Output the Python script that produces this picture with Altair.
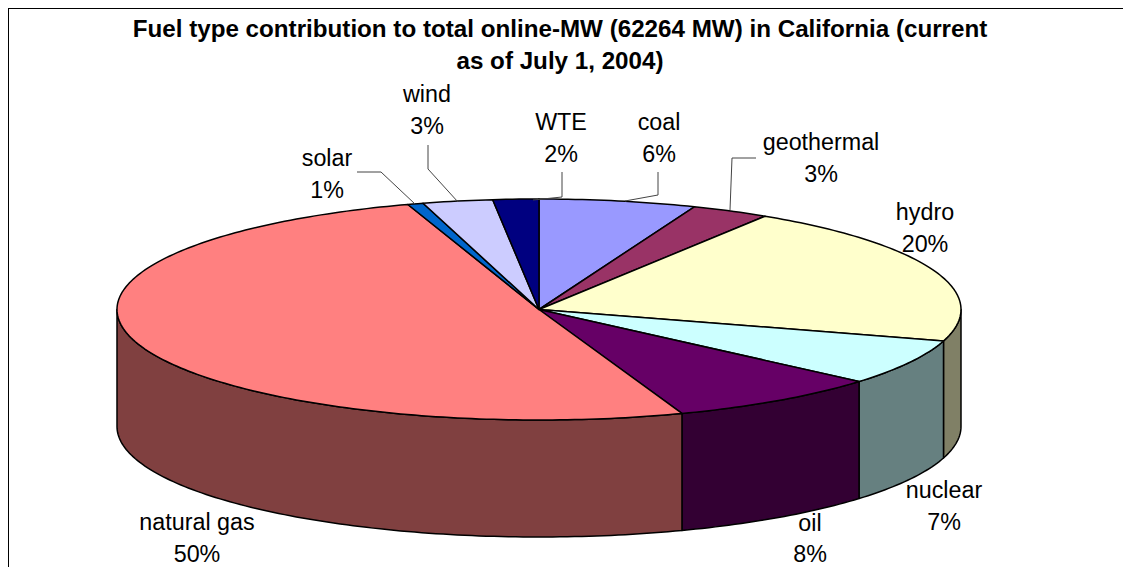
import math
import altair as alt

# Slice data, clockwise from 12 o'clock
names = ["coal", "geothermal", "hydro", "nuclear", "oil", "natural gas", "solar", "wind", "WTE"]
values = [6.0, 3.0, 20.6, 6.7, 8.2, 50.47, 0.6, 2.68, 1.75]
percent_labels = ["6%", "3%", "20%", "7%", "8%", "50%", "1%", "3%", "2%"]
top_colors = ["#9999FF", "#993366", "#FFFFCC", "#CCFFFF", "#660066", "#FF8080", "#0066CC", "#CCCCFF", "#000080"]
side_colors = ["#4D4D80", "#4D1A33", "#808066", "#668080", "#330033", "#804040", "#003366", "#666680", "#000040"]
title_lines = [
    "Fuel type contribution to total online-MW (62264 MW) in California (current",
    "as of July 1, 2004)",
]

# Layout of the tilted pie, in page pixels
CX, CY, RX, RY, DEPTH = 539, 309.5, 422, 110.5, 117
PAGE_W, PAGE_H = 1115, 559
FONT = "Liberation Sans"

label_anchor = {
    "coal": (659, 123), "geothermal": (821, 143), "hydro": (925, 213),
    "nuclear": (944, 491), "oil": (810, 523.5), "natural gas": (197, 523),
    "solar": (327, 159), "wind": (427, 95), "WTE": (561, 123),
}
LINE_GAP = 31.5
leader_paths = [
    [(357, 172), (381, 172), (415, 204)],
    [(428, 145), (428, 169), (458, 202)],
    [(562, 172), (562, 197), (533, 200)],
    [(658, 172), (658, 195), (625, 201)],
    [(756, 158), (732, 158), (730, 210)],
]


def rim(deg, drop=0.0):
    t = math.radians(deg)
    return [CX + RX * math.sin(t), CY - RY * math.cos(t) + drop]


def arc_degrees(a, b):
    n = max(2, int(abs(b - a)) + 2)
    return [a + (b - a) * i / (n - 1) for i in range(n)]


def polygon(name, ring):
    return {"type": "Feature", "properties": {"name": name},
            "geometry": {"type": "Polygon", "coordinates": [ring + [ring[0]]]}}


total = sum(values)
tops, sides = [], []
start = 0.0
for name, v in zip(names, values):
    end = start + 360.0 * v / total
    tops.append(polygon(name, [[CX, CY]] + [rim(d) for d in arc_degrees(start, end)]))
    lo, hi = max(start, 90.0), min(end, 270.0)
    if lo < hi:
        arc = arc_degrees(lo, hi)
        sides.append(polygon(name + " side",
                             [rim(d) for d in arc] + [rim(d, DEPTH) for d in reversed(arc)]))
    start = end

pie_features = sides + tops
line_features = [
    {"type": "Feature", "properties": {"name": "leader"},
     "geometry": {"type": "LineString", "coordinates": [list(p) for p in path]}}
    for path in leader_paths
]
border_features = [
    {"type": "Feature", "properties": {"name": "border"},
     "geometry": {"type": "LineString",
                  "coordinates": [[8, PAGE_H + 8], [8, 8], [PAGE_W + 8, 8]]}}
]

label_rows = []
for name, pct in zip(names, percent_labels):
    x, y = label_anchor[name]
    label_rows.append({"text": name, "px": x - 8, "py": y - 8})
    label_rows.append({"text": pct, "px": x - 8, "py": y - 8 + LINE_GAP})

projection = dict(type="identity", scale=1, translate=[-8, -8])

domain = names + [n + " side" for n in names]
colors = top_colors + side_colors

pie = alt.Chart(alt.Data(values=pie_features)).mark_geoshape(
    stroke="black", strokeWidth=1.5, strokeJoin="round"
).encode(
    color=alt.Color("properties.name:N", scale=alt.Scale(domain=domain, range=colors), legend=None)
).project(**projection)

leaders = alt.Chart(alt.Data(values=line_features)).mark_geoshape(
    filled=False, stroke="#444444", strokeWidth=1
).project(**projection)

border = alt.Chart(alt.Data(values=border_features)).mark_geoshape(
    filled=False, stroke="black", strokeWidth=2
).project(**projection)

labels = alt.Chart(alt.Data(values=label_rows)).mark_text(
    font=FONT, fontSize=23.3, color="black", align="center", baseline="middle"
).encode(
    x=alt.X("px:Q", scale=None, axis=None),
    y=alt.Y("py:Q", scale=None, axis=None),
    text="text:N",
)

chart = alt.layer(pie, leaders, border, labels).properties(
    width=PAGE_W,
    height=PAGE_H,
    padding=0,
    autosize=alt.AutoSizeParams(type="none"),
    background="white",
    title=alt.TitleParams(
        text=title_lines, font=FONT, fontSize=24.2, fontWeight="bold", color="black",
        anchor="middle", lineHeight=32, dx=-5.5, dy=85.5, baseline="alphabetic", offset=0,
    ),
).configure_view(strokeWidth=0)

chart.save("out.html", embed_options={"renderer": "svg", "actions": False})
